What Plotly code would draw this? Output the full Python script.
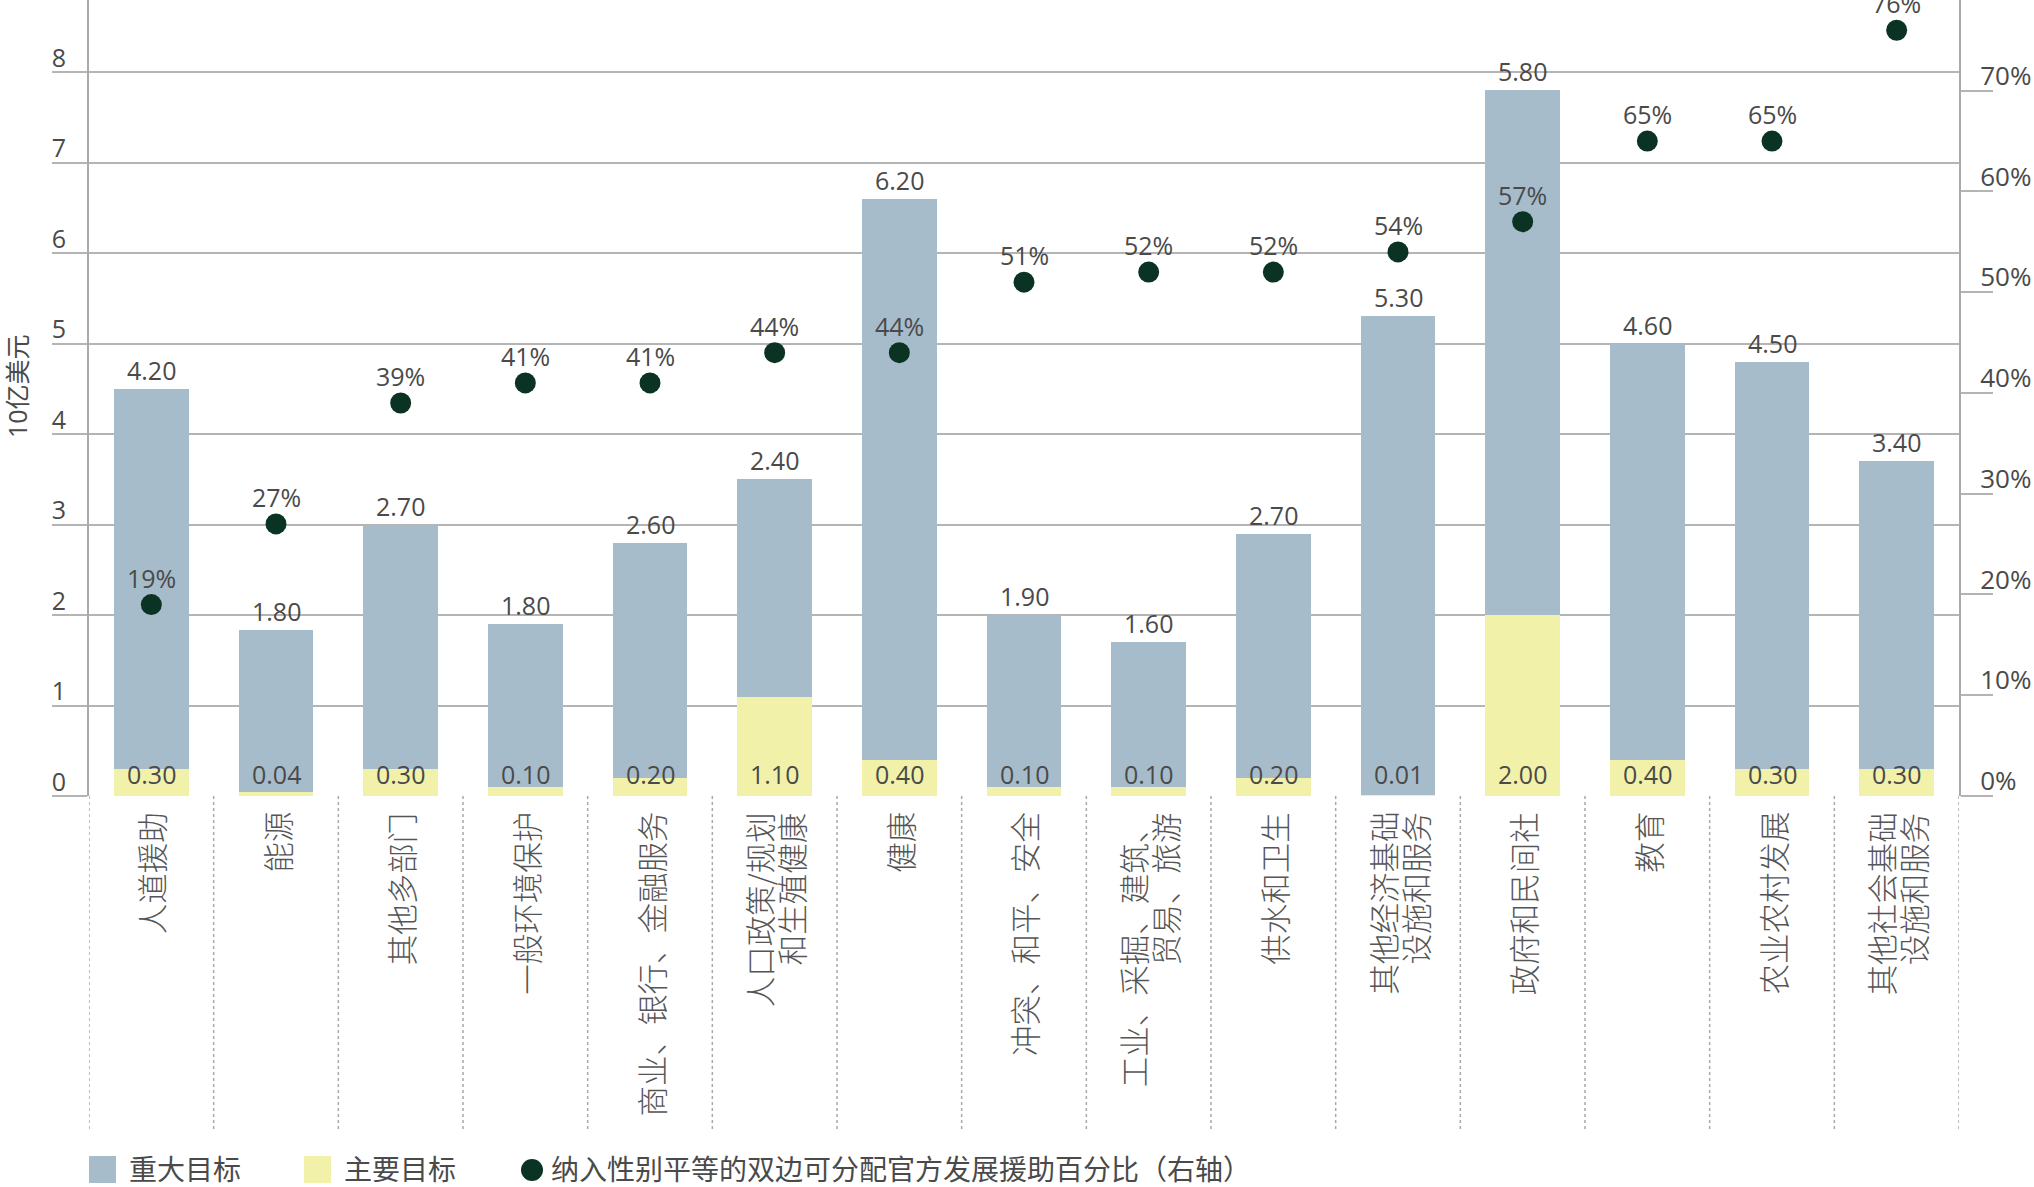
import plotly.graph_objects as go

categories = [
    "人道援助", "能源", "其他多部门", "一般环境保护", "商业、银行、金融服务",
    "人口政策/规划<br>和生殖健康", "健康", "冲突、和平、安全",
    "工业、采掘、建筑、<br>贸易、旅游", "供水和卫生", "其他经济基础<br>设施和服务",
    "政府和民间社", "教育", "农业农村发展", "其他社会基础<br>设施和服务",
]
significant = [4.20, 1.80, 2.70, 1.80, 2.60, 2.40, 6.20, 1.90, 1.60, 2.70, 5.30, 5.80, 4.60, 4.50, 3.40]
principal = [0.30, 0.04, 0.30, 0.10, 0.20, 1.10, 0.40, 0.10, 0.10, 0.20, 0.01, 2.00, 0.40, 0.30, 0.30]
gender_pct = [19, 27, 39, 41, 41, 44, 44, 51, 52, 52, 54, 57, 65, 65, 76]

left_ticks = [0, 1, 2, 3, 4, 5, 6, 7, 8]
right_ticks = [0, 10, 20, 30, 40, 50, 60, 70]

legend_labels = ["重大目标", "主要目标", "纳入性别平等的双边可分配官方发展援助百分比（右轴）"]
y_title = "10亿美元"

BLUE = "#a7bccb"
YELLOW = "#f1f1a9"
DOT = "#0b3324"
GRID = "#b4b4b4"
TXT = "#4a4a4a"
NUM_FONT = "Open Sans, Noto Sans CJK SC, sans-serif"
CJK_FONT = "Noto Sans CJK SC, sans-serif"

W, H = 2034, 1187
L, R, T, B = 89, 75, 0, 391
PW = W - L - R
PH = H - T - B


def px2x(px):
    return (px - L) / PW


def py2y(py):
    return (H - B - py) / PH


fig = go.Figure()
fig.add_trace(go.Bar(
    x=categories, y=principal, name=legend_labels[1],
    marker=dict(color=YELLOW, line=dict(width=0)), width=0.6,
    hoverinfo="x+y",
))
fig.add_trace(go.Bar(
    x=categories, y=significant, name=legend_labels[0],
    marker=dict(color=BLUE, line=dict(width=0)), width=0.6,
    hoverinfo="x+y",
))
fig.add_trace(go.Scatter(
    x=categories, y=gender_pct, yaxis="y2", name=legend_labels[2],
    mode="markers", marker=dict(size=21, color=DOT),
    cliponaxis=False,
))

annotations = []
LINE_PITCH = 32
for c, s, p, g in zip(categories, significant, principal, gender_pct):
    annotations.append(dict(
        x=c, y=s + p, xref="x", yref="y", text=f"{s:.2f}", showarrow=False,
        yanchor="bottom", yshift=0, font=dict(size=25, color=TXT, family=NUM_FONT),
    ))
    annotations.append(dict(
        x=c, y=0, xref="x", yref="y", text=f"{p:.2f}", showarrow=False,
        yanchor="bottom", yshift=3, font=dict(size=25, color=TXT, family=NUM_FONT),
    ))
    annotations.append(dict(
        x=c, y=g, xref="x", yref="y2", text=f"{g}%", showarrow=False,
        yanchor="bottom", yshift=8, font=dict(size=25, color=TXT, family=NUM_FONT),
    ))
    lines = c.split("<br>")
    n = len(lines)
    for i, ln in enumerate(lines):
        annotations.append(dict(
            x=c, y=0, xref="x", yref="paper", text=ln, showarrow=False,
            yanchor="top", xanchor="center", yshift=-14,
            xshift=(i - (n - 1) / 2) * LINE_PITCH, textangle=-90,
            font=dict(size=30.5, color="#555555", family=CJK_FONT, weight=300),
        ))

# y axis title
annotations.append(dict(
    x=px2x(17), y=py2y(386), xref="paper", yref="paper", text=y_title,
    showarrow=False, textangle=-90, xanchor="center", yanchor="middle",
    font=dict(size=25, color=TXT, family=NUM_FONT),
))

shapes = []
# dotted separators below the axis
for i in range(len(categories) + 1):
    shapes.append(dict(
        type="line", xref="x", yref="paper", x0=i - 0.5, x1=i - 0.5,
        y0=0, y1=py2y(1130), line=dict(color="#a8a8a8", width=1.5, dash="dot"),
    ))

# legend
leg_y = 1168
shapes.append(dict(type="rect", xref="paper", yref="paper",
                   x0=px2x(89), x1=px2x(116), y0=py2y(1183), y1=py2y(1156),
                   fillcolor=BLUE, line=dict(width=0)))
shapes.append(dict(type="rect", xref="paper", yref="paper",
                   x0=px2x(304), x1=px2x(331), y0=py2y(1183), y1=py2y(1156),
                   fillcolor=YELLOW, line=dict(width=0)))
shapes.append(dict(type="circle", xref="paper", yref="paper",
                   x0=px2x(521), x1=px2x(543), y0=py2y(1181), y1=py2y(1159),
                   fillcolor=DOT, line=dict(width=0)))
for tx, lab in zip([127, 342, 549], legend_labels):
    annotations.append(dict(
        x=px2x(tx), y=py2y(leg_y), xref="paper", yref="paper", text=lab,
        showarrow=False, xanchor="left", yanchor="middle",
        font=dict(size=28, color=TXT, family=CJK_FONT),
    ))

fig.update_layout(
    width=W, height=H,
    margin=dict(l=L, r=R, t=T, b=B),
    barmode="stack", bargap=0.4,
    plot_bgcolor="white", paper_bgcolor="white",
    showlegend=False,
    font=dict(family=NUM_FONT, color=TXT),
    xaxis=dict(
        type="category", showticklabels=False, ticks="", showgrid=False,
        zeroline=False, showline=False, range=[-0.5, len(categories) - 0.5],
    ),
    yaxis=dict(
        range=[0, 8.8], tickvals=left_ticks, ticktext=[str(v) for v in left_ticks],
        showgrid=True, gridcolor=GRID, gridwidth=1.5,
        zeroline=False, showline=True, linecolor="#aaaaaa", linewidth=2,
        ticks="outside", ticklen=35, tickcolor=GRID, tickwidth=1.5,
        ticklabelposition="outside top", ticklabelstandoff=16, ticklabelshift=4,
        tickfont=dict(size=25, color=TXT, family=NUM_FONT),
    ),
    yaxis2=dict(
        range=[0, 79], overlaying="y", side="right", tickvals=right_ticks,
        ticktext=[f"{v}%" for v in right_ticks],
        showgrid=False, zeroline=False, showline=True, linecolor="#aaaaaa", linewidth=2,
        ticks="outside", ticklen=32, tickcolor=GRID, tickwidth=1.5,
        ticklabelposition="outside top", ticklabelstandoff=14, ticklabelshift=4,
        tickfont=dict(size=26, color=TXT, family=NUM_FONT),
    ),
    annotations=annotations,
    shapes=shapes,
)

fig.write_html(
    "out.html",
    config={"displayModeBar": False},
    post_script="document.body.style.margin='0';document.body.style.overflow='hidden';",
)
